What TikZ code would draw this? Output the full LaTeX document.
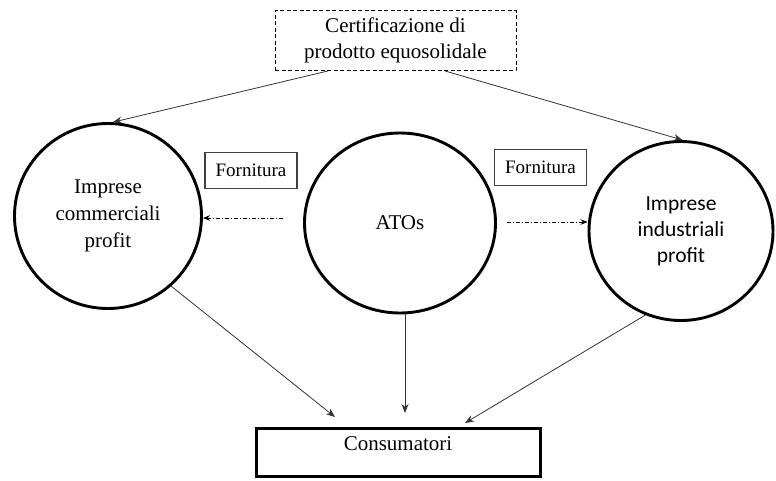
\documentclass[tikz,border=0pt]{standalone}
\usepackage{fontspec}
\setmainfont{Liberation Serif}
\newfontfamily\sansbody{Carlito}
\usetikzlibrary{shapes.geometric,arrows.meta}
\begin{document}
\begin{tikzpicture}[x=1pt,y=-1pt,
  ring/.style={ellipse, draw, line width=2.9pt, inner sep=0pt, align=center,
    font=\fontsize{21}{27}\selectfont},
  certbox/.style={draw, dash pattern=on 4pt off 2.5pt, line width=0.9pt,
    minimum width=241pt, minimum height=60pt, align=center,
    font=\fontsize{21}{26}\selectfont},
  supplybox/.style={draw=black!75, line width=1.1pt, minimum width=92pt,
    minimum height=36pt, inner sep=0pt, font=\fontsize{19}{22}\selectfont},
  consbox/.style={draw, line width=3pt, minimum width=284pt, minimum height=48pt,
    inner sep=0pt},
  arr/.style={-{Stealth[length=9pt,width=7pt]}, line width=0.8pt, black!80},
  supplyarr/.style={-{Stealth[length=7pt,width=5.5pt]}, line width=0.8pt,
    dash pattern=on 4pt off 2pt on 1pt off 2pt}
]
\useasboundingbox (0,0) rectangle (776,480);

% certification body
\node[certbox] (cert) at (395.5,40.5) {Certificazione di\\prodotto equosolidale};

% the three actors
\node[ring, minimum width=187pt, minimum height=185pt] (lc) at (108,216)
  {Imprese\\commerciali\\profit};
\node[ring, minimum width=191pt, minimum height=180pt] (ato) at (400,223) {ATOs};
\node[ring, minimum width=184pt, minimum height=179pt,
  font=\sansbody\fontsize{21.5}{26}\selectfont] (rc) at (681,231)
  {Imprese\\industriali\\profit};

% supply labels
\node[supplybox] (fl) at (251,170.5) {Fornitura};
\node[supplybox] (fr) at (540.5,167.5) {Fornitura};

% consumers
\node[consbox] (cons) at (398.5,452.5) {};
\node[font=\fontsize{21}{25}\selectfont] (constext) at (398,444) {Consumatori};

% certification links
\draw[arr] ([shift={(-67.5,0)}]cert.south) -- (lc.87);
\draw[arr] ([shift={(49.5,0)}]cert.south) -- (rc.89);

% supply flows
\coordinate (sl) at (283,218);
\coordinate (sr) at (507,222);
\draw[supplyarr] (sl) -- (sl -| lc.east);
\draw[supplyarr] (sr) -- (sr -| rc.west);

% flows to consumers
\coordinate (tl) at (335,417);
\coordinate (tm) at (405,413);
\coordinate (tr) at (465,423);
\draw[arr] (lc.-48) -- (tl);
\draw[arr] (ato.-87 -| tm) -- (tm);
\draw[arr] (rc.-113) -- (tr);
\end{tikzpicture}
\end{document}
